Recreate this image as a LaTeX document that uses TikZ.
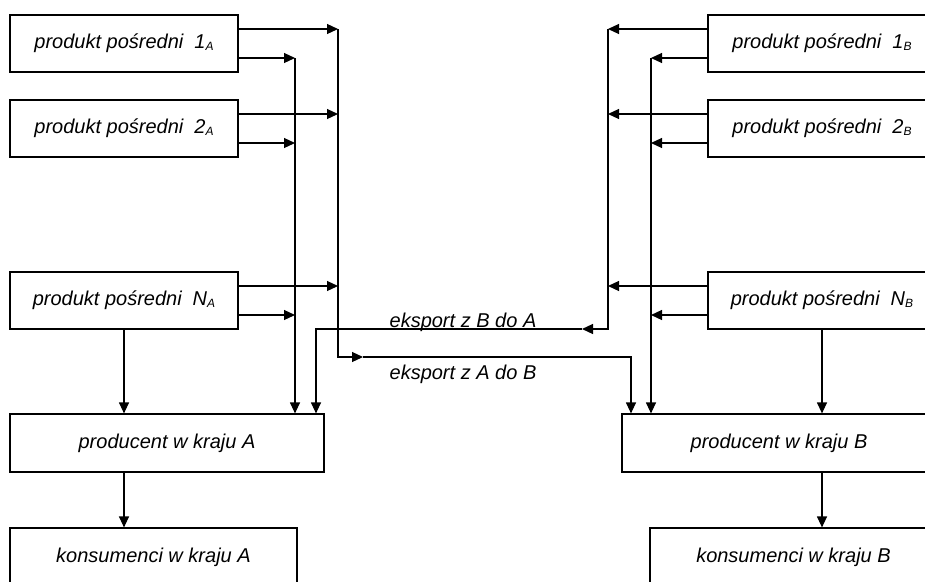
\documentclass[tikz,border=0pt]{standalone}
\usepackage{fontspec}
\setmainfont{Liberation Sans}
\usetikzlibrary{arrows.meta, positioning}
\newcommand{\idx}[1]{\raisebox{-0.15ex}{\fontsize{12}{12}\selectfont #1}}
\tikzset{
  txt/.style = {font=\itshape\fontsize{20}{23}\selectfont},
  box/.style = {draw, line width=1.2pt, inner sep=0pt, txt,
                minimum width=228pt, minimum height=57pt},
  flow/.style = {line width=1.2pt, -{Triangle[length=11pt, width=10pt]}}
}
\begin{document}
\begin{tikzpicture}[x=1pt, y=-1pt]
\useasboundingbox (0,0) rectangle (925,581);
\clip (0,0) rectangle (925,581);
% intermediate products
\node [box] (p1A) at (124,43.5) {produkt pośredni\hspace{0.55em}1\idx{A}};
\node [box] (p2A) at (124,128.5) {produkt pośredni\hspace{0.55em}2\idx{A}};
\node [box] (pNA) at (124,300.5) {produkt pośredni\hspace{0.55em}N\idx{A}};
\node [box] (p1B) at (822,43.5) {produkt pośredni\hspace{0.55em}1\idx{B}};
\node [box] (p2B) at (822,128.5) {produkt pośredni\hspace{0.55em}2\idx{B}};
\node [box] (pNB) at (822,300.5) {produkt pośredni\hspace{0.55em}N\idx{B}};
% producers and consumers
\node [box, minimum width=314pt, minimum height=58pt] (prodA) at (167,443) {producent w kraju A};
\node [box, minimum width=314pt, minimum height=58pt] (prodB) at (779,443) {producent w kraju B};
\node [box, minimum width=287pt, minimum height=58pt] (konsA) at (153.5,557) {konsumenci w kraju A};
\node [box, minimum width=287pt, minimum height=58pt] (konsB) at (793.5,557) {konsumenci w kraju B};
% bus lines
\coordinate (exAB) at (338,357);
\coordinate (tipAB) at (363,357);
\coordinate (dropAB) at (631,0);
\coordinate (exBA) at (608,329);
\coordinate (tipBA) at (582,329);
\coordinate (dropBA) at (316,0);
\coordinate (inA) at (295,0);
\coordinate (inB) at (651,0);
\foreach \n in {1A,2A,NA} {
  \coordinate (u\n) at ([yshift=14.5pt]p\n.east);
  \coordinate (l\n) at ([yshift=-14.5pt]p\n.east);
  \draw [flow] (u\n) -- (u\n -| exAB);
  \draw [flow] (l\n) -- (l\n -| inA);
}
\foreach \n in {1B,2B,NB} {
  \coordinate (u\n) at ([yshift=14.5pt]p\n.west);
  \coordinate (l\n) at ([yshift=-14.5pt]p\n.west);
  \draw [flow] (u\n) -- (u\n -| exBA);
  \draw [flow] (l\n) -- (l\n -| inB);
}
\draw [flow] (l1A -| inA) -- (inA |- prodA.north);
\draw [flow] (l1B -| inB) -- (inB |- prodB.north);
% exports
\draw [flow] (u1A -| exAB) |- (tipAB);
\draw [flow] (tipAB) -| (dropAB |- prodB.north);
\draw [flow] (u1B -| exBA) |- (tipBA);
\draw [flow] (tipBA) -| (dropBA |- prodA.north);
\node [txt, anchor=base] (lblBA) at (463,327) {eksport z B do A};
\node [txt, anchor=base] (lblAB) at (463,379) {eksport z A do B};
% down arrows
\draw [flow] (pNA.south) -- (pNA.south |- prodA.north);
\draw [flow] (pNB.south) -- (pNB.south |- prodB.north);
\draw [flow] (pNA.south |- prodA.south) -- (pNA.south |- konsA.north);
\draw [flow] (pNB.south |- prodB.south) -- (pNB.south |- konsB.north);
\end{tikzpicture}
\end{document}
